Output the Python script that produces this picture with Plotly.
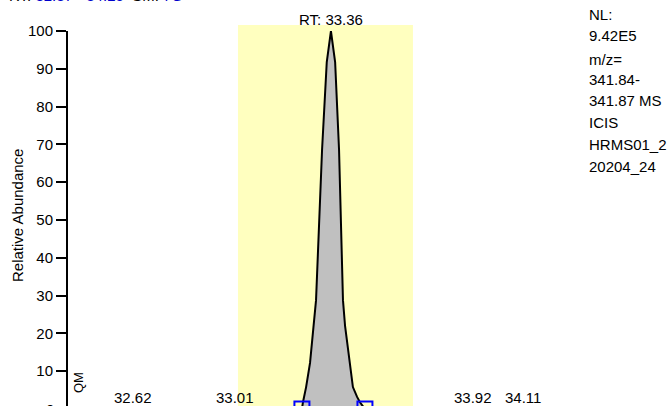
import plotly.graph_objects as go

# ---- data ----
rt = [32.37, 33.266, 33.270, 33.282, 33.297, 33.312, 33.320, 33.343, 33.361, 33.377,
      33.393, 33.408, 33.423, 33.431, 33.450, 33.461, 33.477, 33.488, 33.507, 34.25]
abundance = [0, 0, 1.8, 5.8, 12.2, 22, 28.8, 68.5, 91.8, 100,
             91.8, 68.5, 28.8, 22, 12.2, 5.8, 3.2, 1.8, 0, 0]
peak_rt_label = "RT: 33.36"
apex_rt = 33.377
boundary_rt = [33.266, 33.507]
boundary_ab = [0, 0]
minor_rt = [32.62, 33.01, 33.92, 34.11]
minor_labels = ["32.62", "33.01", "33.92", "34.11"]
window_rt = [33.0215, 33.6907]
y_ticks = [0, 10, 20, 30, 40, 50, 60, 70, 80, 90, 100]
info_lines = ["NL:", "9.42E5", "m/z=", "341.84-", "341.87 MS", "ICIS", "HRMS01_2", "20204_24"]
x_range = [32.3714, 34.253]

W, H = 671, 406
L, R, T, B = 68, 111, 31, 0
PW, PH = W - L - R, H - T - B
FONT = "Liberation Sans, Arial, sans-serif"

def pxx(p):
    return (p - L) / PW

def pxy(p):
    return 1 - (p - T) / PH

fig = go.Figure()

fig.add_shape(type="rect", xref="x", yref="paper", x0=window_rt[0], x1=window_rt[1],
              y0=-0.05, y1=pxy(25), fillcolor="#FFFFBF", line=dict(width=0), layer="below")

fig.add_trace(go.Scatter(x=rt, y=abundance, mode="lines", fill="tozeroy",
                         fillcolor="#C0C0C0", line=dict(color="black", width=2),
                         hoverinfo="skip", showlegend=False))
fig.add_trace(go.Scatter(x=boundary_rt, y=boundary_ab, mode="markers",
                         marker=dict(symbol="square-open", size=15, color="#0000FF",
                                     line=dict(width=2, color="#0000FF")),
                         cliponaxis=True, showlegend=False, hoverinfo="skip"))

ann = []
# peak label
ann.append(dict(x=apex_rt, y=100, xref="x", yref="y", text=peak_rt_label, showarrow=False,
                yanchor="bottom", yshift=1, font=dict(size=15, family=FONT, color="black")))
# minor labels
for t, lab in zip(minor_rt, minor_labels):
    ann.append(dict(x=t, y=pxy(397), xref="x", yref="paper", text=lab, showarrow=False,
                    yanchor="middle", font=dict(size=15, family=FONT, color="black")))
# y-axis title
ann.append(dict(x=pxx(17), y=pxy(216), xref="paper", yref="paper", text="Relative Abundance",
                textangle=-90, showarrow=False, xanchor="center", yanchor="middle",
                font=dict(size=15, family=FONT, color="black")))
# QM
ann.append(dict(x=pxx(78), y=pxy(383), xref="paper", yref="paper", text="QM",
                textangle=-90, showarrow=False, xanchor="center", yanchor="middle",
                font=dict(size=13, family=FONT, color="black")))
# zero tick label (cut by page bottom)
ann.append(dict(x=pxx(56), y=pxy(409), xref="paper", yref="paper", text="0",
                showarrow=False, xanchor="right", yanchor="middle",
                font=dict(size=15, family=FONT, color="black")))
# header (mostly cut off)
ann.append(dict(x=pxx(7), y=pxy(-4.5), xref="paper", yref="paper",
                text='RT: <span style="color:#0000CC">32.37 - 34.25</span>  SM: <span style="color:#0000CC">7G</span>',
                showarrow=False, xanchor="left", yanchor="middle",
                font=dict(size=15, family=FONT, color="black")))
# info block
info_y = [14, 36, 59, 79, 101, 122.5, 144, 166]
for txt, py in zip(info_lines, info_y):
    ann.append(dict(x=pxx(587), y=pxy(py), xref="paper", yref="paper", text=txt,
                    showarrow=False, xanchor="left", yanchor="middle",
                    font=dict(size=15, family=FONT, color="black")))

fig.update_layout(
    width=W, height=H,
    margin=dict(l=L, r=R, t=T, b=B, pad=0),
    paper_bgcolor="white", plot_bgcolor="white",
    annotations=ann,
    xaxis=dict(range=x_range, visible=False, showgrid=False, zeroline=False),
    yaxis=dict(range=[0.8, 100], tickvals=y_ticks, showline=True, linewidth=2, linecolor="black",
               ticks="outside", ticklen=10, tickwidth=2, tickcolor="black",
               showgrid=False, zeroline=False, automargin=False,
               tickfont=dict(size=15, family=FONT, color="black")),
    showlegend=False,
)

fig.write_html("out.html", config={"displayModeBar": False},
               post_script="document.body.style.margin='0';document.body.style.overflow='hidden';")
